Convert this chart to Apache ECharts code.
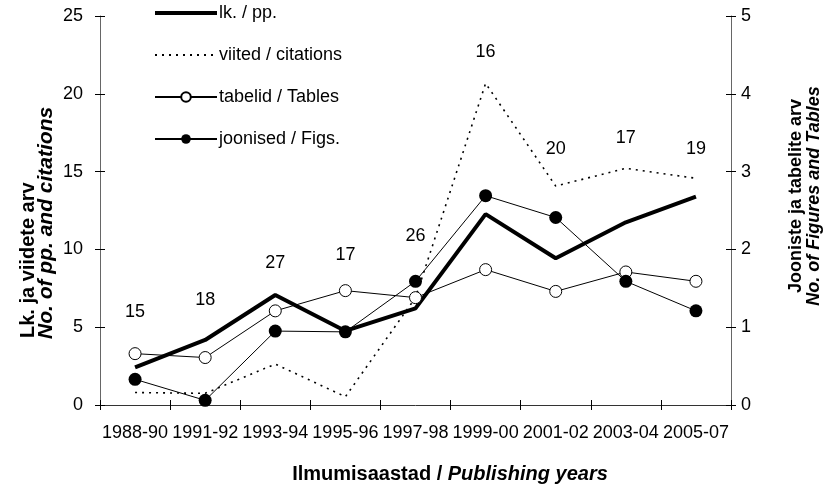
<!DOCTYPE html>
<html lang="et">
<head>
<meta charset="UTF-8">
<title>Ilmumisaastad</title>
<script src="https://cdn.jsdelivr.net/npm/echarts@6/dist/echarts.min.js"></script>
<style>
  html, body { margin: 0; padding: 0; background: #fff; }
  #main { width: 829px; height: 488px; }
</style>
</head>
<body>
<div id="main"></div>
<script>
// andmed (loetud jooniselt)
var years = ['1988-90', '1991-92', '1993-94', '1995-96', '1997-98', '1999-00', '2001-02', '2003-04', '2005-07'];
var pages = [2.42, 4.18, 7.07, 4.76, 6.21, 12.27, 9.43, 11.74, 13.39];
var citations = [0.8, 0.75, 2.63, 0.53, 6.9, 20.67, 14.07, 15.21, 14.57];
var tables = [0.66, 0.61, 1.21, 1.47, 1.38, 1.74, 1.46, 1.71, 1.59];
var figures = [0.33, 0.06, 0.95, 0.94, 1.59, 2.69, 2.41, 1.59, 1.21];
// artiklite arv perioodis ja selle sildi kõrgus (vasaku telje ühikutes)
var paperCounts = [15, 18, 27, 17, 26, 16, 20, 17, 19];
var countLabelLevel = [5.97, 6.75, 9.11, 9.64, 10.86, 22.69, 16.45, 17.16, 16.45];
var leftTicks = [0, 25, 5];
var rightTicks = [0, 5, 1];

var FONT = 'Liberation Sans';
var myChart = echarts.init(document.getElementById('main'));

function yAx(pos, t, inner, margin) {
    return {
        type: 'value', position: pos, min: t[0], max: t[1], interval: t[2],
        axisLine: { show: !inner, lineStyle: { color: '#666', width: 1 } },
        axisTick: { show: true, inside: inner, length: 5, lineStyle: { color: '#000' } },
        axisLabel: { show: !inner, color: '#000', fontFamily: FONT, fontSize: 18, margin: margin },
        splitLine: { show: false }
    };
}
function xAx(inner) {
    return {
        type: 'category', data: years, position: 'bottom',
        axisLine: { show: !inner, lineStyle: { color: '#333', width: 1 } },
        axisTick: { show: true, inside: inner, length: 5, lineStyle: { color: '#000' } },
        axisLabel: { show: !inner, interval: 0, color: '#000', fontFamily: FONT, fontSize: 18, margin: 19 },
        splitLine: { show: false }
    };
}

var option = {
    animation: false,
    backgroundColor: '#fff',
    textStyle: { fontFamily: FONT },
    grid: { left: 100, right: 98, top: 16, bottom: 83 },
    legend: {
        orient: 'vertical', left: 148, top: -1,
        itemWidth: 62, itemHeight: 12, itemGap: 24,
        data: [
            { name: 'lk. / pp.', lineStyle: { width: 4 } },
            { name: 'viited / citations' },
            { name: 'tabelid / Tables' },
            { name: 'joonised / Figs.' }
        ],
        textStyle: { color: '#000', fontSize: 18, fontFamily: FONT, padding: [0, 0, 0, -3] }
    },
    xAxis: [xAx(false), xAx(true)],
    yAxis: [yAx('left', leftTicks, false, 17), yAx('right', rightTicks, false, 10),
            yAx('left', leftTicks, true, 0), yAx('right', rightTicks, true, 0)],
    series: [
        {
            name: 'lk. / pp.', type: 'line', data: pages, yAxisIndex: 0,
            symbol: 'none', lineStyle: { color: '#000', width: 4 }, itemStyle: { color: 'rgba(0,0,0,0)' }
        },
        {
            name: 'viited / citations', type: 'line', data: citations, yAxisIndex: 0,
            symbol: 'none', lineStyle: { color: '#000', width: 1.6, type: [2, 5] }, itemStyle: { color: 'rgba(0,0,0,0)' }
        },
        {
            name: 'tabelid / Tables', type: 'line', data: tables, yAxisIndex: 1,
            symbol: 'circle', symbolSize: 12,
            lineStyle: { color: '#000', width: 1 },
            itemStyle: { color: '#fff', borderColor: '#000', borderWidth: 1 }
        },
        {
            name: 'joonised / Figs.', type: 'line', data: figures, yAxisIndex: 1,
            symbol: 'circle', symbolSize: 13,
            lineStyle: { color: '#000', width: 1 },
            itemStyle: { color: '#000' }
        },
        {
            name: 'counts', type: 'scatter', data: countLabelLevel, yAxisIndex: 0,
            symbolSize: 0, itemStyle: { color: '#000', opacity: 1 }, silent: true,
            label: {
                show: true, position: 'inside', color: '#000', fontSize: 18, fontFamily: FONT,
                textBorderWidth: 0, opacity: 1,
                formatter: function (p) { return String(paperCounts[p.dataIndex]); }
            }
        }
    ],
    graphic: [
        { type: 'text', x: 28, y: 338, rotation: Math.PI / 2,
          style: { text: 'Lk. ja viidete arv', font: 'bold 20px ' + FONT, fill: '#000', textAlign: 'left', textVerticalAlign: 'middle' } },
        { type: 'text', x: 46, y: 339, rotation: Math.PI / 2,
          style: { text: 'No. of pp. and citations', font: 'italic bold 21px ' + FONT, fill: '#000', textAlign: 'left', textVerticalAlign: 'middle' } },
        { type: 'text', x: 796, y: 196, rotation: Math.PI / 2,
          style: { text: 'Jooniste ja tabelite arv', font: 'bold 18px ' + FONT, fill: '#000', textAlign: 'center', textVerticalAlign: 'middle' } },
        { type: 'text', x: 814, y: 196, rotation: Math.PI / 2,
          style: { text: 'No. of Figures and Tables', font: 'italic bold 18px ' + FONT, fill: '#000', textAlign: 'center', textVerticalAlign: 'middle' } },
        { type: 'text', x: 450, y: 474,
          style: {
              text: '{a|Ilmumisaastad / }{b|Publishing years}',
              textAlign: 'center', textVerticalAlign: 'middle',
              rich: {
                  a: { font: 'bold 20px ' + FONT, fill: '#000' },
                  b: { font: 'italic bold 20px ' + FONT, fill: '#000' }
              }
          } }
    ]
};

myChart.setOption(option);
</script>
</body>
</html>
